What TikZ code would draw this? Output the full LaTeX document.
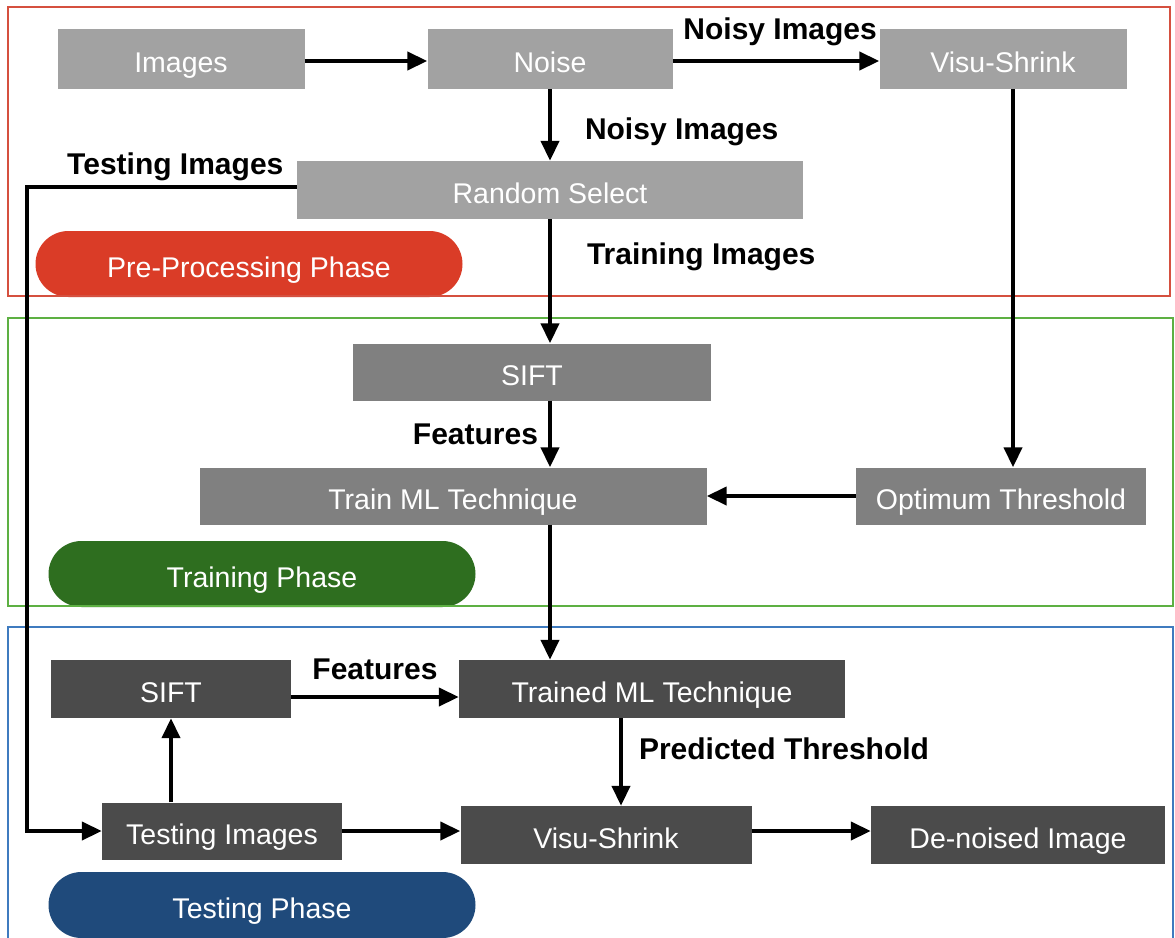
\documentclass[tikz,border=0pt]{standalone}
\usepackage{fontspec}
\setmainfont{Liberation Sans}
\usetikzlibrary{arrows.meta,calc}
\definecolor{boxlight}{HTML}{A2A2A2}
\definecolor{boxmid}{HTML}{808080}
\definecolor{boxdark}{HTML}{4B4B4B}
\definecolor{framered}{HTML}{D5503F}
\definecolor{framegreen}{HTML}{5DB043}
\definecolor{frameblue}{HTML}{3F7BBF}
\definecolor{pillred}{HTML}{DA3C27}
\definecolor{pillgreen}{HTML}{2E6E1F}
\definecolor{pillblue}{HTML}{1F4A7B}
\tikzset{
  procbox/.style={inner sep=0pt, text=white, font=\fontsize{28.5}{32}\selectfont, text height=26.4pt, text depth=0pt, anchor=center},
  sz/.style n args={2}{minimum width=#1pt, minimum height=#2pt},
  pill/.style={inner sep=0pt, text=white, rounded corners=33pt, font=\fontsize{28.5}{32}\selectfont, text height=26.4pt, text depth=0pt, minimum width=427pt, minimum height=66pt},
  arr/.style={line width=4pt, -{Triangle[length=20pt,width=18pt]}},
  lbl/.style={font=\bfseries\fontsize{30}{33}\selectfont, inner sep=0pt, text=black},
  frame/.style={line width=2.5pt}
}
\begin{document}
\begin{tikzpicture}[x=1pt,y=-1pt]
\useasboundingbox[fill=white] (0,0) rectangle (1175,937);

% phase pills
\node[pill, fill=pillred] (pp) at (249,264) {Pre-Processing Phase};
\node[pill, fill=pillgreen] (tp) at (262,574) {Training Phase};
\node[pill, fill=pillblue] (sp) at (262,905) {Testing Phase};

% frames
\draw[frame, framered] (8,7) rectangle (1170,296);
\draw[frame, framegreen] (8,318) rectangle (1173,606);
\draw[frame, frameblue] (8,627) rectangle (1173,950);

% pre-processing boxes
\node[procbox, fill=boxlight, sz={247}{60}] (images) at (181,59) {Images};
\node[procbox, fill=boxlight, sz={245}{60}] (noise) at (550,59) {Noise};
\node[procbox, fill=boxlight, sz={247}{60}] (visu1) at (1003,59) {Visu-Shrink};
\node[procbox, fill=boxlight, sz={506}{58}] (rs) at (550,190) {Random Select};

% training boxes
\node[procbox, fill=boxmid, sz={358}{57}] (sift1) at (532,372) {SIFT};
\node[procbox, fill=boxmid, sz={507}{57}] (train) at (453,496) {Train ML Technique};
\node[procbox, fill=boxmid, sz={290}{57}] (opt) at (1001,496) {Optimum Threshold};

% testing boxes
\node[procbox, fill=boxdark, sz={240}{58}] (sift2) at (171,689) {SIFT};
\node[procbox, fill=boxdark, sz={386}{58}] (trained) at (652,689) {Trained ML Technique};
\node[procbox, fill=boxdark, sz={240}{57}] (testimg) at (222,831) {Testing Images};
\node[procbox, fill=boxdark, sz={291}{58}] (visu2) at (606,835) {Visu-Shrink};
\node[procbox, fill=boxdark, sz={294}{58}] (den) at (1018,835) {De-noised Image};

% connectors
\draw[arr] ([yshift=-2pt]images.east) -- ([yshift=-2pt]noise.west);
\draw[arr] ([yshift=-2pt]noise.east) -- node[lbl, above=13pt, pos=0.52] {Noisy Images} ([yshift=-2pt]visu1.west);
\draw[arr] (noise.south) -- node[lbl, right=33pt, pos=0.6] {Noisy Images} (rs.north);
\draw[arr] (rs.south) -- node[lbl, right=35pt, pos=0.3] {Training Images} (rs.south |- sift1.north);
\draw[arr] ([yshift=3pt]rs.west) -- node[lbl, above=4pt, pos=0.45] {Testing Images} ++(-270,0) |- (testimg.west);
\draw[arr] ([xshift=10pt]visu1.south) -- ([xshift=10pt]visu1.south |- opt.north);
\draw[arr] (sift1.south -| rs.south) -- node[lbl, left=10pt] {Features} (train.north -| rs.south);
\draw[arr] (opt.west) -- (train.east);
\draw[arr] (train.south -| rs.south) -- (trained.north -| rs.south);
\draw[arr] ([yshift=-8pt]sift2.east) -- node[lbl, above=15pt] {Features} ([yshift=-8pt]sift2.east -| trained.west);
\draw[arr] ([xshift=-31pt]trained.south) -- node[lbl, right=16pt, pos=0.35] {Predicted Threshold} ([xshift=-31pt]trained.south |- visu2.north);
\draw[arr] (testimg.north -| sift2.south) -- (sift2.south);
\draw[arr] (testimg.east) -- (testimg.east -| visu2.west);
\draw[arr] (visu2.east |- testimg.east) -- (testimg.east -| den.west);
\end{tikzpicture}
\end{document}
